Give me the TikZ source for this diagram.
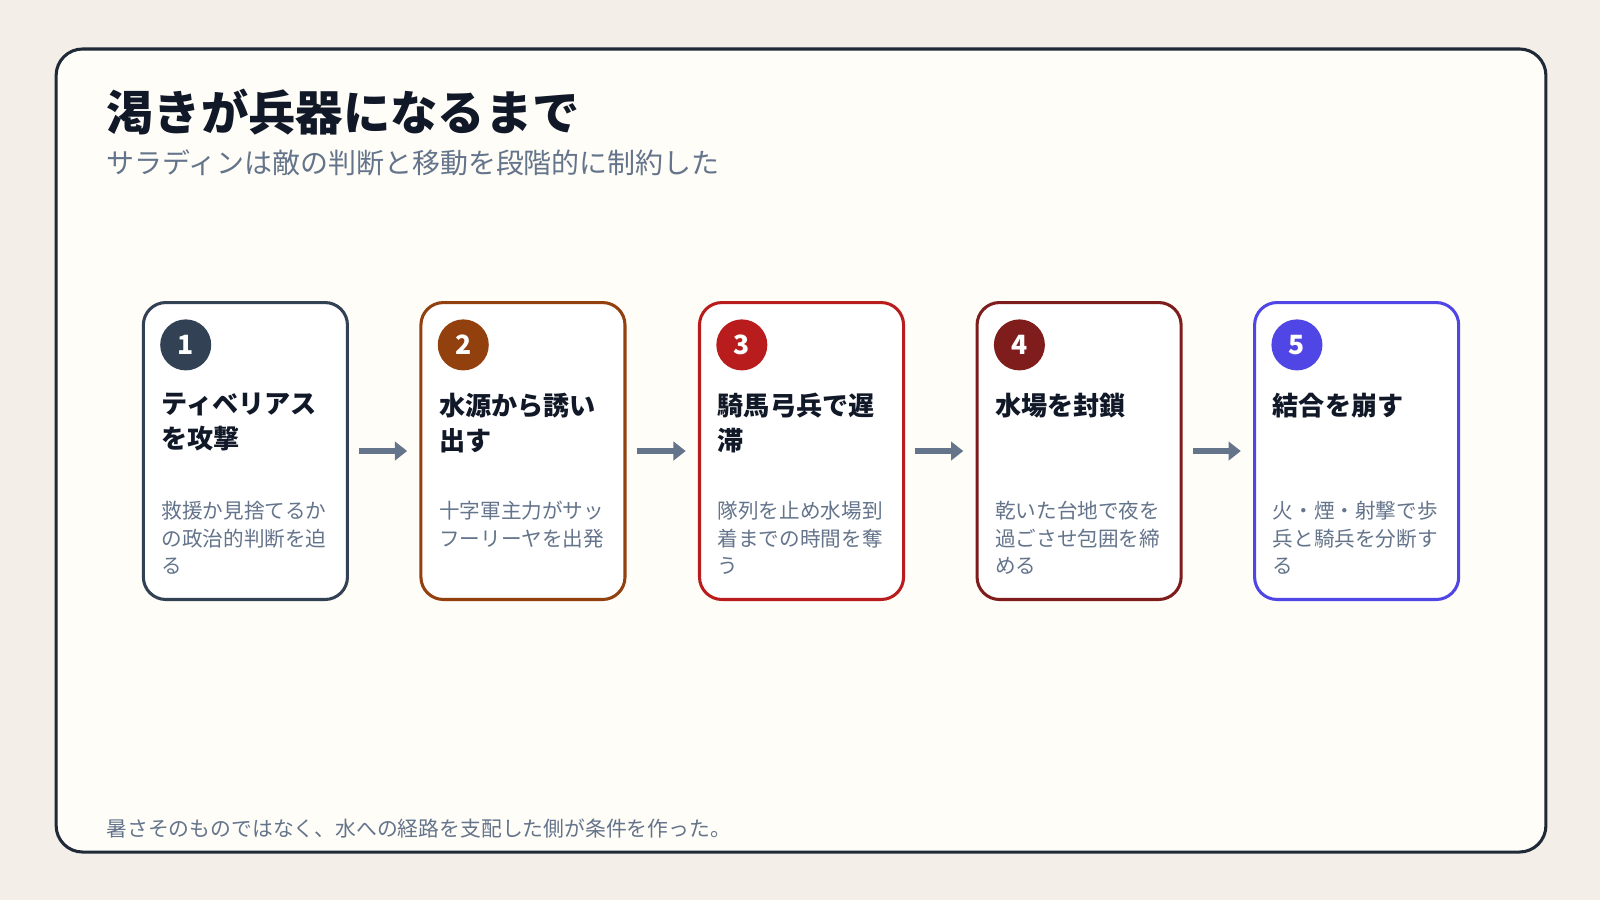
\documentclass[tikz,border=0pt]{standalone}
\usepackage{fontspec}
\setmainfont{Noto Sans CJK JP}
\usetikzlibrary{arrows.meta}
\definecolor{bg}{HTML}{F3EFE8}
\definecolor{panel}{HTML}{FFFDF7}
\definecolor{frame}{HTML}{1F2937}
\definecolor{ink}{HTML}{111827}
\definecolor{muted}{HTML}{64748B}
\definecolor{cA}{HTML}{334155}
\definecolor{cB}{HTML}{92400E}
\definecolor{cC}{HTML}{B91C1C}
\definecolor{cD}{HTML}{7F1D1D}
\definecolor{cE}{HTML}{4F46E5}
\tikzset{
 card/.style={draw=#1,line width=1.5pt,fill=white,rounded corners=11pt,minimum width=100pt,minimum height=145.5pt,inner sep=0pt},
 num/.style={circle,fill=#1,minimum size=25pt,inner sep=0pt,text=white,font=\bfseries\fontsize{13}{13}\selectfont},
 head/.style={anchor=north west,align=left,text=ink,inner sep=0pt,font=\bfseries\fontsize{12.8}{17}\selectfont},
 desc/.style={anchor=north west,align=left,text=muted,inner sep=0pt,font=\fontsize{10.1}{13.5}\selectfont},
 flow/.style={draw=muted,line width=3pt,-{Triangle[length=6pt,width=9pt]}}
}
\begin{document}
\begin{tikzpicture}[x=0.5pt,y=-0.5pt]
\useasboundingbox (0,0) rectangle (1568,882);
\fill[bg] (0,0) rectangle (1568,882);
\draw[frame,fill=panel,line width=1.5pt,rounded corners=13pt] (55,48) rectangle (1515,835);
\node[anchor=base west,inner sep=0pt,text=ink,font=\bfseries\fontsize{23.2}{23.2}\selectfont] (title) at (104,128) {渇きが兵器になるまで};
\node[anchor=base west,inner sep=0pt,text=muted,font=\fontsize{13.7}{13.7}\selectfont] (sub) at (104,170) {サラディンは敵の判断と移動を段階的に制約した};
\node[anchor=base west,inner sep=0pt,text=muted,font=\fontsize{10.2}{10.2}\selectfont] (foot) at (104,820) {暑さそのものではなく、水への経路を支配した側が条件を作った。};
\foreach \i/\x/\c/\n/\h/\d in {
 1/139/cA/1/{ティベリアス\\を攻撃}/{救援か見捨てるか\\の政治的判断を迫\\る},
 2/411/cB/2/{水源から誘い\\出す}/{十字軍主力がサッ\\フーリーヤを出発},
 3/684/cC/3/{騎馬弓兵で遅\\滞}/{隊列を止め水場到\\着までの時間を奪\\う},
 4/956/cD/4/{水場を封鎖}/{乾いた台地で夜を\\過ごさせ包囲を締\\める},
 5/1228/cE/5/{結合を崩す}/{火・煙・射撃で歩\\兵と騎兵を分断す\\る}}{
 \node[card=\c,anchor=north west] (k\i) at (\x,295) {};
 \node[num=\c] (n\i) at (\x+43,338) {\n};
 \node[head] (h\i) at (\x+19,385) {\h};
 \node[desc] (d\i) at (\x+19,491) {\d};
}
\foreach \a/\b in {1/2,2/3,3/4,4/5}{
 \draw[flow] ([xshift=5pt]k\a.east) -- ([xshift=-6pt]k\b.west);
}
\end{tikzpicture}
\end{document}
